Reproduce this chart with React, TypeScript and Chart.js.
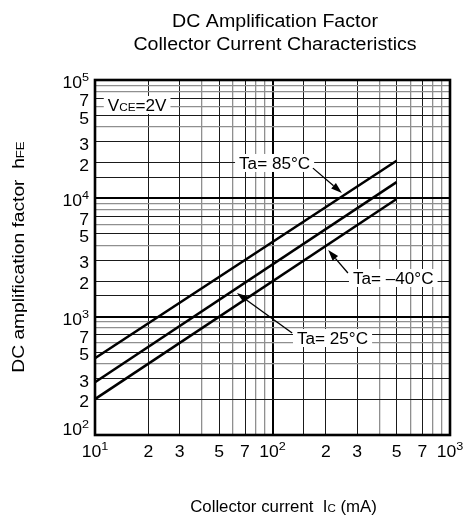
import React, { useEffect, useRef } from "react";
import { Chart, registerables } from "chart.js";

Chart.register(...registerables);

// ---- data ----
const collectorCurrentMA = [10, 500];
const hfeTa85 = [445, 20800];
const hfeTa25 = [279, 13700];
const hfeTaMinus40 = [201, 9870];

const xTickValues = [10, 20, 30, 50, 70, 100, 200, 300, 500, 700, 1000];
const xTickLabels = ["10^1", "2", "3", "5", "7", "10^2", "2", "3", "5", "7", "10^3"];
const yTickValues = [100, 200, 300, 500, 700, 1000, 2000, 3000, 5000, 7000, 10000, 20000, 30000, 50000, 70000, 100000];
const yTickLabels = ["10^2", "2", "3", "5", "7", "10^3", "2", "3", "5", "7", "10^4", "2", "3", "5", "7", "10^5"];

const titleLines = ["DC Amplification Factor", "Collector Current Characteristics"];

// label text: [text, small?] pieces; positions in data units (mA, hFE)
const curveNotes = [
  { pieces: [["Ta= 85°C", false]], at: [64.8, 19900], from: [169, 18000], to: [246, 11100] },
  { pieces: [["Ta= –40°C", false]], at: [284, 2123], from: [266, 2340], to: [206, 3660] },
  { pieces: [["Ta= 25°C", false]], at: [137.4, 660], from: [129, 728], to: [63, 1585] },
  { pieces: [["V", false], ["CE", true], ["=2V", false]], at: [11.8, 61500], from: null, to: null },
];

const FONT = '"Liberation Sans", Arial, Helvetica, sans-serif';

type Seg = { t: string; size: number; rise?: number };

function richWidth(ctx: CanvasRenderingContext2D, segs: Seg[]) {
  let w = 0;
  for (const s of segs) {
    ctx.font = `${s.size}px ${FONT}`;
    w += ctx.measureText(s.t).width;
  }
  return w;
}

function drawRich(
  ctx: CanvasRenderingContext2D,
  segs: Seg[],
  x: number,
  y: number,
  align: "left" | "center" | "right",
  sx: number
) {
  const w = richWidth(ctx, segs) * sx;
  let cx = align === "left" ? x : align === "center" ? x - w / 2 : x - w;
  ctx.textAlign = "left";
  ctx.textBaseline = "alphabetic";
  for (const s of segs) {
    ctx.font = `${s.size}px ${FONT}`;
    const sw = ctx.measureText(s.t).width;
    ctx.save();
    ctx.translate(cx, y - (s.rise || 0));
    ctx.scale(sx, 1);
    ctx.fillText(s.t, 0, 0);
    ctx.restore();
    cx += sw * sx;
  }
  return w;
}

function tickSegs(label: string, size: number, supSize: number, rise: number): Seg[] {
  if (label.includes("^")) {
    const [base, exp] = label.split("^");
    return [
      { t: base, size },
      { t: exp, size: supSize, rise },
    ];
  }
  return [{ t: label, size }];
}

function mantissa(v: number) {
  const e = Math.floor(Math.log10(v) + 1e-9);
  return Math.round(v / Math.pow(10, e));
}

function gridColor(c: any) {
  const v = c.tick?.value;
  if (!v) return "#000";
  const m = mantissa(v);
  if (m === 1) return "#000";
  if (m === 2 || m === 3 || m === 5 || m === 7) return "#1a1a1a";
  return "#8f8f8f";
}
function gridWidth(c: any) {
  const v = c.tick?.value;
  if (!v) return 1;
  const m = mantissa(v);
  if (m === 1) return 2;
  if (m === 2 || m === 3 || m === 5 || m === 7) return 1;
  return 1.3;
}

function notesSegs(pieces: any[]): Seg[] {
  return pieces.map(([t, small]) => ({ t, size: small ? 11 : 16 }));
}

const decorPlugin = {
  id: "decor",
  beforeDatasetsDraw(chart: any) {
    const ctx: CanvasRenderingContext2D = chart.ctx;
    const xs = chart.scales.x;
    const ys = chart.scales.y;
    ctx.save();
    for (const n of curveNotes) {
      const segs = notesSegs(n.pieces);
      const px = xs.getPixelForValue(n.at[0]);
      const py = ys.getPixelForValue(n.at[1]);
      const w = richWidth(ctx, segs) * 1.07;
      ctx.fillStyle = "#fff";
      ctx.fillRect(px - 4, py - 9, w + 8, 18);
    }
    ctx.restore();
  },
  afterDatasetsDraw(chart: any) {
    const ctx: CanvasRenderingContext2D = chart.ctx;
    const area = chart.chartArea;
    const xs = chart.scales.x;
    const ys = chart.scales.y;
    ctx.save();

    // notes text and arrows
    ctx.fillStyle = "#000";
    ctx.strokeStyle = "#000";
    for (const n of curveNotes) {
      const segs = notesSegs(n.pieces);
      const px = xs.getPixelForValue(n.at[0]);
      const py = ys.getPixelForValue(n.at[1]);
      drawRich(ctx, segs, px, py + 5.8, "left", 1.07);
      if (n.from && n.to) {
        const x1 = xs.getPixelForValue(n.from[0]);
        const y1 = ys.getPixelForValue(n.from[1]);
        const x2 = xs.getPixelForValue(n.to[0]);
        const y2 = ys.getPixelForValue(n.to[1]);
        const ang = Math.atan2(y2 - y1, x2 - x1);
        const L = 11;
        const hw = 3.6;
        const bx = x2 - L * Math.cos(ang);
        const by = y2 - L * Math.sin(ang);
        ctx.lineWidth = 1.3;
        ctx.beginPath();
        ctx.moveTo(x1, y1);
        ctx.lineTo(bx, by);
        ctx.stroke();
        ctx.beginPath();
        ctx.moveTo(x2, y2);
        ctx.lineTo(bx + hw * Math.sin(ang), by - hw * Math.cos(ang));
        ctx.lineTo(bx - hw * Math.sin(ang), by + hw * Math.cos(ang));
        ctx.closePath();
        ctx.fill();
      }
    }

    // frame
    ctx.lineWidth = 2.6;
    ctx.strokeStyle = "#000";
    ctx.strokeRect(area.left, area.top, area.right - area.left, area.bottom - area.top);

    // y tick labels
    ctx.fillStyle = "#000";
    yTickValues.forEach((v, i) => {
      const py = ys.getPixelForValue(v);
      const segs = tickSegs(yTickLabels[i], 16, 11.5, 7);
      const base = v === yTickValues[0] ? py : py + 8;
      drawRich(ctx, segs, area.left - 6, base, "right", 1.1);
    });

    // x tick labels
    xTickValues.forEach((v, i) => {
      const px = xs.getPixelForValue(v);
      const segs = tickSegs(xTickLabels[i], 16, 11.5, 7);
      drawRich(ctx, segs, px, area.bottom + 22, "center", 1.1);
    });

    const cx = (area.left + area.right) / 2;

    // chart title
    drawRich(ctx, [{ t: titleLines[0], size: 17.5 }], cx + 2.5, 27, "center", 1.12);
    drawRich(ctx, [{ t: titleLines[1], size: 17.5 }], cx + 2.5, 49.5, "center", 1.12);

    // x axis title
    drawRich(
      ctx,
      [
        { t: "Collector current  I", size: 16 },
        { t: "C", size: 11 },
        { t: " (mA)", size: 16 },
      ],
      cx + 11,
      512,
      "center",
      1.05
    );

    // y axis title
    ctx.save();
    ctx.translate(23.5, 257);
    ctx.rotate(-Math.PI / 2);
    drawRich(
      ctx,
      [
        { t: "DC amplification factor  h", size: 16 },
        { t: "FE", size: 11 },
      ],
      0,
      0,
      "center",
      1.2
    );
    ctx.restore();

    ctx.restore();
  },
};

export default function App() {
  const ref = useRef<HTMLCanvasElement | null>(null);

  useEffect(() => {
    if (!ref.current) return;
    const mk = (ys: number[]) => collectorCurrentMA.map((x, i) => ({ x, y: ys[i] }));
    const lineStyle = {
      borderColor: "#000",
      borderWidth: 2.5,
      pointRadius: 0,
      fill: false,
      tension: 0,
    };
    const chart = new Chart(ref.current, {
      type: "line",
      data: {
        datasets: [
          { label: "Ta=85°C", data: mk(hfeTa85), ...lineStyle },
          { label: "Ta=25°C", data: mk(hfeTa25), ...lineStyle },
          { label: "Ta=-40°C", data: mk(hfeTaMinus40), ...lineStyle },
        ],
      },
      options: {
        responsive: false,
        animation: false,
        layout: { padding: { left: 95, top: 80, right: 19, bottom: 83 } },
        plugins: {
          legend: { display: false },
          tooltip: { enabled: false },
          title: { display: false },
        },
        scales: {
          x: {
            type: "logarithmic",
            min: 10,
            max: 1000,
            ticks: { display: false },
            grid: { drawTicks: false, color: gridColor, lineWidth: gridWidth },
            border: { display: false },
          },
          y: {
            type: "logarithmic",
            min: 100,
            max: 100000,
            ticks: { display: false },
            grid: { drawTicks: false, color: gridColor, lineWidth: gridWidth },
            border: { display: false },
          },
        },
      } as any,
      plugins: [decorPlugin],
    });
    return () => chart.destroy();
  }, []);

  return (
    <div style={{ position: "fixed", left: 0, top: 0, width: 469, height: 518, background: "#fff" }}>
      <canvas ref={ref} width={469} height={518} style={{ width: 469, height: 518, display: "block" }} />
    </div>
  );
}
